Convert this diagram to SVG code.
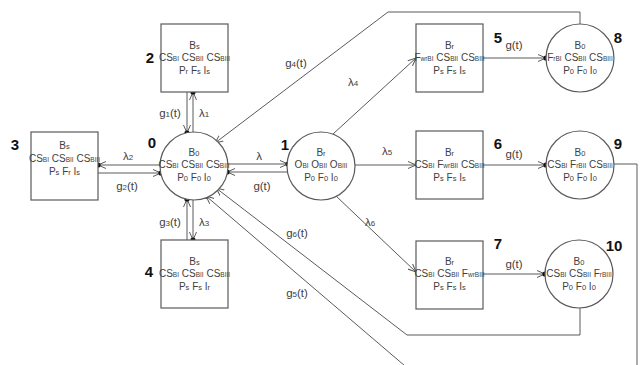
<svg xmlns="http://www.w3.org/2000/svg" width="640" height="365" viewBox="0 0 640 365">
<defs>
<style>
.nd{fill:#fff;stroke:#5a5a5a;stroke-width:1.2}
.t{font-family:"Liberation Sans",Arial,sans-serif;font-size:10px;fill:#404040;text-anchor:middle}
.s{font-size:6.5px}
.ss{font-size:7.5px}
.ls{font-size:8px}
.num{font-family:"Liberation Sans",Arial,sans-serif;font-size:15px;font-weight:bold;fill:#111;text-anchor:middle}
.lb{font-family:"Liberation Sans",Arial,sans-serif;font-size:11.5px;fill:#404040;text-anchor:middle}
.c{fill:none;stroke:#5a5a5a;stroke-width:1}
</style>
<marker id="a" viewBox="0 0 8 8" refX="8" refY="4" markerWidth="8" markerHeight="8" markerUnits="userSpaceOnUse" orient="auto">
<path d="M0,0.5 L8,4 L0,7.5" fill="none" stroke="#5a5a5a" stroke-width="1"/>
</marker>
<marker id="ad" viewBox="0 0 10 10" refX="8" refY="5" markerWidth="10" markerHeight="10" markerUnits="userSpaceOnUse" orient="auto">
<path d="M0,1.5 L8,5 L0,8.5" fill="none" stroke="#5a5a5a" stroke-width="1"/>
<circle cx="8" cy="5" r="2.6" fill="#111"/>
</marker>
</defs>
<rect width="640" height="365" fill="#fff"/>

<g id="connectors">
<path class="c" d="M187,92 V133" marker-end="url(#ad)"/>
<path class="c" d="M193,132 V92" marker-end="url(#ad)"/>
<path class="c" d="M187,240 V199" marker-end="url(#ad)"/>
<path class="c" d="M193,200 V240" marker-end="url(#ad)"/>
<path class="c" d="M160,165 H98" marker-end="url(#ad)"/>
<path class="c" d="M98,173 H161" marker-end="url(#ad)"/>
<path class="c" d="M228,164 H288" marker-end="url(#ad)"/>
<path class="c" d="M288,172 H227" marker-end="url(#ad)"/>
<path class="c" d="M333,134 L416,58" marker-end="url(#a)"/>
<path class="c" d="M355,165 H416" marker-end="url(#a)"/>
<path class="c" d="M336,196 L416,272" marker-end="url(#a)"/>
<path class="c" d="M483,58 H546" marker-end="url(#ad)"/>
<path class="c" d="M483,165 H546" marker-end="url(#ad)"/>
<path class="c" d="M483,274 H545" marker-end="url(#ad)"/>
<path class="c" d="M580,24 V12 H388 L215,143" marker-end="url(#ad)"/>
<path class="c" d="M614,164 H637 V366"/>
<path class="c" d="M580,308 V335 H407 L216,188" marker-end="url(#ad)"/>
<path class="c" d="M405,366 L206,196" marker-end="url(#ad)"/>
<text class="lb" x="170" y="117">g<tspan class="ls">1</tspan>(t)</text>
<text class="lb" x="204" y="117">λ<tspan class="ls">1</tspan></text>
<text class="lb" x="170" y="226">g<tspan class="ls">3</tspan>(t)</text>
<text class="lb" x="204" y="226">λ<tspan class="ls">3</tspan></text>
<text class="lb" x="128" y="160">λ<tspan class="ls">2</tspan></text>
<text class="lb" x="127" y="190">g<tspan class="ls">2</tspan>(t)</text>
<text class="lb" x="259" y="160">λ</text>
<text class="lb" x="262" y="190">g(t)</text>
<text class="lb" x="296" y="67">g<tspan class="ls">4</tspan>(t)</text>
<text class="lb" x="353" y="86">λ<tspan class="ls">4</tspan></text>
<text class="lb" x="387" y="155">λ<tspan class="ls">5</tspan></text>
<text class="lb" x="370" y="226">λ<tspan class="ls">6</tspan></text>
<text class="lb" x="297" y="237">g<tspan class="ls">6</tspan>(t)</text>
<text class="lb" x="297" y="297">g<tspan class="ls">5</tspan>(t)</text>
<text class="lb" x="514" y="49">g(t)</text>
<text class="lb" x="514" y="158">g(t)</text>
<text class="lb" x="514" y="268">g(t)</text>
</g>

<g id="n3">
<rect class="nd" x="31" y="132" width="67" height="68"/>
<text class="num" x="15" y="150">3</text>
<text class="t" x="64.5" y="149">B<tspan class="ss">s</tspan></text>
<text class="t" x="64.5" y="162">CS<tspan class="s">BI</tspan> CS<tspan class="s">BII</tspan> CS<tspan class="s">BIII</tspan></text>
<text class="t" x="64.5" y="175">P<tspan class="ss">s</tspan> F<tspan class="ss">r</tspan> I<tspan class="ss">s</tspan></text>
</g>

<g id="n2">
<rect class="nd" x="161" y="24" width="67" height="68"/>
<text class="num" x="150" y="63">2</text>
<text class="t" x="194.5" y="49">B<tspan class="ss">s</tspan></text>
<text class="t" x="194.5" y="61">CS<tspan class="s">BI</tspan> CS<tspan class="s">BII</tspan> CS<tspan class="s">BIII</tspan></text>
<text class="t" x="194.5" y="74">P<tspan class="ss">r</tspan> F<tspan class="ss">s</tspan> I<tspan class="ss">s</tspan></text>
</g>

<g id="n4">
<rect class="nd" x="161" y="240" width="67" height="68"/>
<text class="num" x="149" y="277">4</text>
<text class="t" x="194.5" y="265">B<tspan class="ss">s</tspan></text>
<text class="t" x="194.5" y="277">CS<tspan class="s">BI</tspan> CS<tspan class="s">BII</tspan> CS<tspan class="s">BIII</tspan></text>
<text class="t" x="194.5" y="290">P<tspan class="ss">s</tspan> F<tspan class="ss">s</tspan> I<tspan class="ss">r</tspan></text>
</g>

<g id="n0">
<circle class="nd" cx="194" cy="166" r="34"/>
<text class="num" x="152" y="148">0</text>
<text class="t" x="194" y="156">B<tspan class="ss">0</tspan></text>
<text class="t" x="194" y="168">CS<tspan class="s">BI</tspan> CS<tspan class="s">BII</tspan> CS<tspan class="s">BIII</tspan></text>
<text class="t" x="194" y="181">P<tspan class="ss">0</tspan> F<tspan class="ss">0</tspan> I<tspan class="ss">0</tspan></text>
</g>

<g id="n1">
<circle class="nd" cx="321" cy="166" r="34"/>
<text class="num" x="285" y="150">1</text>
<text class="t" x="321" y="156">B<tspan class="ss">r</tspan></text>
<text class="t" x="321" y="168">O<tspan class="s">BI</tspan> O<tspan class="s">BII</tspan> O<tspan class="s">BIII</tspan></text>
<text class="t" x="321" y="181">P<tspan class="ss">0</tspan> F<tspan class="ss">0</tspan> I<tspan class="ss">0</tspan></text>
</g>

<g id="n5">
<rect class="nd" x="416" y="24" width="67" height="68"/>
<text class="num" x="498" y="43">5</text>
<text class="t" x="449.5" y="49">B<tspan class="ss">r</tspan></text>
<text class="t" x="449.5" y="61">F<tspan class="s">wrBI</tspan> CS<tspan class="s">BII</tspan> CS<tspan class="s">BIII</tspan></text>
<text class="t" x="449.5" y="74">P<tspan class="ss">s</tspan> F<tspan class="ss">s</tspan> I<tspan class="ss">s</tspan></text>
</g>

<g id="n6">
<rect class="nd" x="416" y="131" width="67" height="68"/>
<text class="num" x="498" y="149">6</text>
<text class="t" x="449.5" y="156">B<tspan class="ss">r</tspan></text>
<text class="t" x="449.5" y="168">CS<tspan class="s">BI</tspan> F<tspan class="s">wrBII</tspan> CS<tspan class="s">BIII</tspan></text>
<text class="t" x="449.5" y="181">P<tspan class="ss">s</tspan> F<tspan class="ss">s</tspan> I<tspan class="ss">s</tspan></text>
</g>

<g id="n7">
<rect class="nd" x="416" y="241" width="67" height="68"/>
<text class="num" x="498" y="249">7</text>
<text class="t" x="449.5" y="265">B<tspan class="ss">r</tspan></text>
<text class="t" x="449.5" y="277">CS<tspan class="s">BI</tspan> CS<tspan class="s">BII</tspan> F<tspan class="s">wrBIII</tspan></text>
<text class="t" x="449.5" y="290">P<tspan class="ss">s</tspan> F<tspan class="ss">s</tspan> I<tspan class="ss">s</tspan></text>
</g>

<g id="n8">
<circle class="nd" cx="580" cy="58" r="34"/>
<text class="num" x="618" y="43">8</text>
<text class="t" x="580" y="49">B<tspan class="ss">0</tspan></text>
<text class="t" x="580" y="61">F<tspan class="s">rBI</tspan> CS<tspan class="s">BII</tspan> CS<tspan class="s">BIII</tspan></text>
<text class="t" x="580" y="74">P<tspan class="ss">0</tspan> F<tspan class="ss">0</tspan> I<tspan class="ss">0</tspan></text>
</g>

<g id="n9">
<circle class="nd" cx="580" cy="165" r="34"/>
<text class="num" x="618" y="149">9</text>
<text class="t" x="580" y="156">B<tspan class="ss">0</tspan></text>
<text class="t" x="580" y="168">CS<tspan class="s">BI</tspan> F<tspan class="s">rBII</tspan> CS<tspan class="s">BIII</tspan></text>
<text class="t" x="580" y="181">P<tspan class="ss">0</tspan> F<tspan class="ss">0</tspan> I<tspan class="ss">0</tspan></text>
</g>

<g id="n10">
<circle class="nd" cx="579" cy="274" r="34"/>
<text class="num" x="614" y="251">10</text>
<text class="t" x="579" y="265">B<tspan class="ss">0</tspan></text>
<text class="t" x="579" y="277">CS<tspan class="s">BI</tspan> CS<tspan class="s">BII</tspan> F<tspan class="s">rBIII</tspan></text>
<text class="t" x="579" y="290">P<tspan class="ss">0</tspan> F<tspan class="ss">0</tspan> I<tspan class="ss">0</tspan></text>
</g>
</svg>
